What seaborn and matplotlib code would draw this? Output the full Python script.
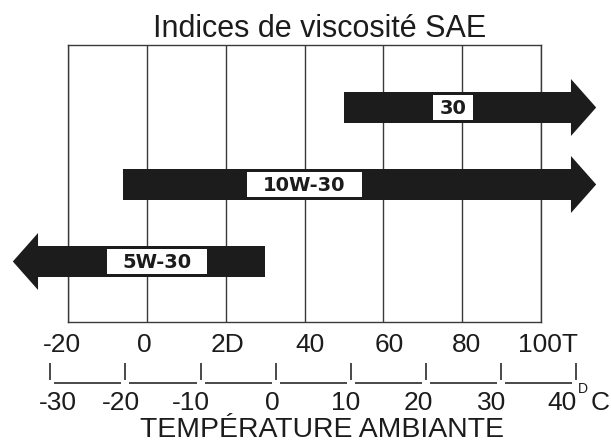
import matplotlib
matplotlib.use("Agg")
import matplotlib.pyplot as plt
import numpy as np
import pandas as pd
import seaborn as sns
from matplotlib.patches import Rectangle
from matplotlib.transforms import blended_transform_factory

# --- data -------------------------------------------------------------
grades = ["30", "10W-30", "5W-30"]
tail_f = [50, -6, 30]        # where each recommended range starts (°F)
tip_f = [114, 114, -34]      # arrow tip; beyond the frame = open-ended range

f_ticks = [-20, 0, 20, 40, 60, 80, 100]
f_tick_labels = ["-20", "0", "2D", "40", "60", "80", "100T"]
c_ticks = [-30, -20, -10, 0, 10, 20, 30, 40]
c_tick_labels = ["-30", "-20", "-10", "0", "10", "20", "30", "40"]

title_text = "Indices de viscosité SAE"
axis_title = "TEMPÉRATURE AMBIANTE"

# --- layout -----------------------------------------------------------
W, H = 611, 444
BOX_L, BOX_R, BOX_T, BOX_B = 68, 541, 45, 322    # plot frame (px)
ROW_TOP, ROW_STEP = 107.5, 77.0                   # first arrow centre, row pitch (px)
BODY_H, HEAD_H, HEAD_LEN = 0.39, 0.74, 6.4
label_centers_f = [77.7, 40.0, 2.6]
label_box_w = [10.1, 29.4, 25.4]
LABEL_BOX_H = 0.33
f_label_shift_px = [-6, -3, 2, 6, 6, 4, 7]
C_ZERO_F, C_STEP_F = 32.7, 1.906                  # Celsius scale placed on the °F axis
c_label_shift_px = [8, -5, -10, -3, -5, -8, -10, -14]

INK = "#1c1c1c"
LINE = "#3a3a3a"

sns.set_theme(style="white")
plt.rcParams["font.family"] = ["Liberation Sans", "DejaVu Sans"]

fig = plt.figure(figsize=(W / 100, H / 100), dpi=100)
fig.patch.set_facecolor("white")
ax = fig.add_axes([BOX_L / W, 1 - BOX_B / H, (BOX_R - BOX_L) / W, (BOX_B - BOX_T) / H])

f_per_px = (f_ticks[-1] - f_ticks[0]) / (BOX_R - BOX_L)


def ax_frac(py):
    return (BOX_B - py) / (BOX_B - BOX_T)


blend = blended_transform_factory(ax.transData, ax.transAxes)

# arrow bodies as horizontal bars, heads as triangles
rows = np.arange(len(grades))
tail = np.array(tail_f, dtype=float)
tip = np.array(tip_f, dtype=float)
direction = np.sign(tip - tail)
head_base = tip - direction * HEAD_LEN
body_left = np.minimum(tail, head_base)
body_len = np.abs(head_base - tail)
df = pd.DataFrame({"grade": grades, "left": body_left, "length": body_len})

sns.barplot(data=df, x="length", y="grade", orient="y", left=df["left"].to_numpy(),
            width=BODY_H, color=INK, saturation=1, errorbar=None, ax=ax,
            zorder=3, clip_on=False, linewidth=0)

for r, base, t in zip(rows, head_base, tip):
    ax.fill([base, t, base], [r - HEAD_H / 2, r, r + HEAD_H / 2],
            color=INK, lw=0, zorder=3, clip_on=False)

# grade labels in white boxes
for r, g, cx, bw in zip(rows, grades, label_centers_f, label_box_w):
    ax.add_patch(Rectangle((cx - bw / 2, r - LABEL_BOX_H / 2), bw, LABEL_BOX_H,
                           facecolor="white", edgecolor="none", zorder=4, clip_on=False))
    ax.text(cx, r + 0.01, g, ha="center", va="center", fontsize=14, fontweight="bold",
            family="DejaVu Sans", color=INK, zorder=5)

# frame and vertical grid
ax.set_xlim(f_ticks[0], f_ticks[-1])
ax.set_ylim(
    (BOX_B - ROW_TOP) / ROW_STEP,
    (BOX_T - ROW_TOP) / ROW_STEP,
)
ax.set_xticks(f_ticks)
ax.set_xticklabels([])
ax.set_yticks([])
ax.set_xlabel("")
ax.set_ylabel("")
ax.tick_params(length=0)
ax.xaxis.grid(True, color=LINE, lw=1.0)
ax.yaxis.grid(False)
ax.set_axisbelow(True)
for s in ax.spines.values():
    s.set_visible(True)
    s.set_color(LINE)
    s.set_linewidth(1.0)

# Fahrenheit labels
for f, lab, sh in zip(f_ticks, f_tick_labels, f_label_shift_px):
    ax.text(f + sh * f_per_px, ax_frac(352), lab, transform=blend, ha="center",
            va="baseline", fontsize=19, color=INK, clip_on=False)

# Celsius scale drawn as |____| segments
c_pos = [C_ZERO_F + C_STEP_F * c for c in c_ticks]
gap = 4 * f_per_px
for x in c_pos:
    ax.plot([x, x], [ax_frac(363), ax_frac(380)], transform=blend, color=LINE,
            lw=1.3, clip_on=False, solid_capstyle="butt")
for x0, x1 in zip(c_pos[:-1], c_pos[1:]):
    ax.plot([x0 + gap, x1 - gap], [ax_frac(383), ax_frac(383)], transform=blend,
            color=LINE, lw=1.3, clip_on=False, solid_capstyle="butt")
for x, lab, sh in zip(c_pos, c_tick_labels, c_label_shift_px):
    ax.text(x + sh * f_per_px, ax_frac(410), lab, transform=blend, ha="center",
            va="baseline", fontsize=19, color=INK, clip_on=False)
ax.text(c_pos[-1] + 7 * f_per_px, ax_frac(393), "D", transform=blend, ha="center",
        va="baseline", fontsize=10, color=INK, clip_on=False)
ax.text(c_pos[-1] + 24 * f_per_px, ax_frac(410), "C", transform=blend, ha="center",
        va="baseline", fontsize=19, color=INK, clip_on=False)

fig.text(320 / W, 1 - 37 / H, title_text, ha="center", va="baseline", fontsize=22, color=INK)
fig.text(322 / W, 0.002, axis_title, ha="center", va="bottom", fontsize=20.4, color=INK)

fig.savefig("out.png", dpi=100)
